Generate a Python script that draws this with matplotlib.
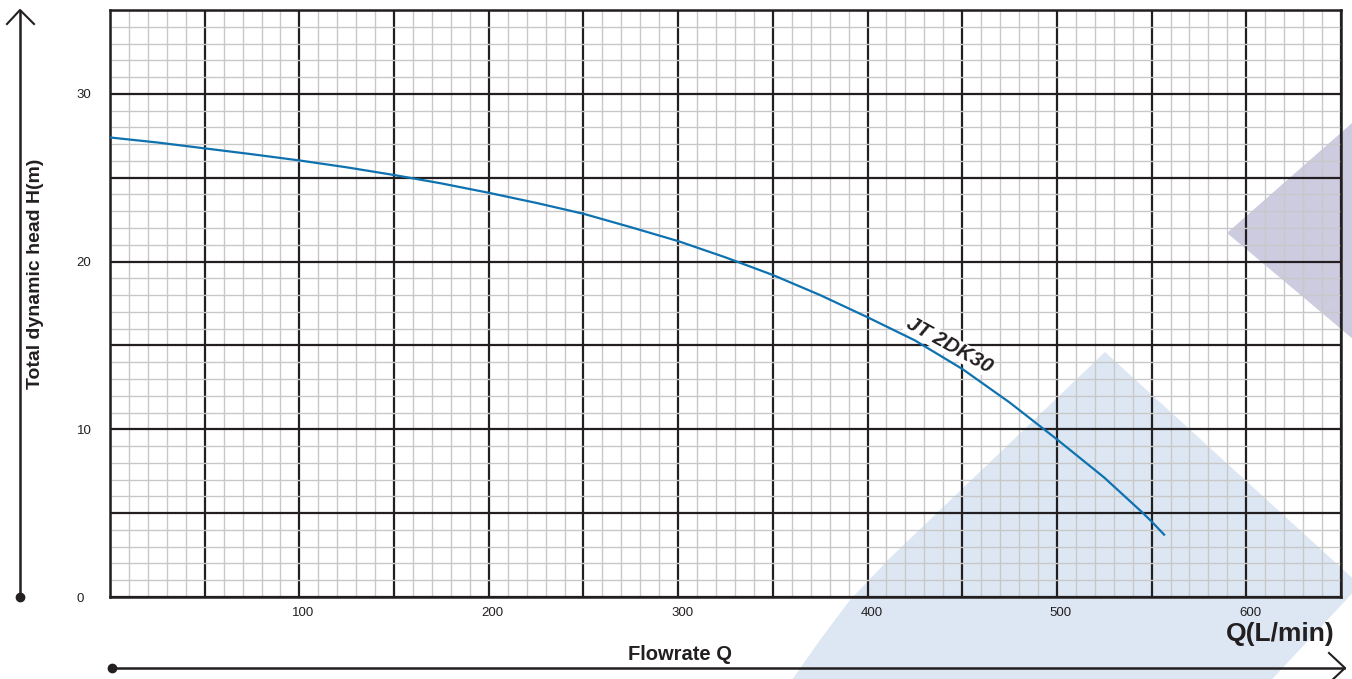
import numpy as np
import matplotlib
matplotlib.use("Agg")
import matplotlib.pyplot as plt
from matplotlib.patches import Polygon
from matplotlib.lines import Line2D
from matplotlib.transforms import ScaledTranslation

# ---- data ----
flow_q = [0, 25, 50, 75, 100, 125, 150, 175, 200, 225, 250, 275, 300, 325, 350,
          375, 400, 425, 450, 475, 500, 525, 545, 550, 557]
head_h = [27.4, 27.1, 26.75, 26.4, 26.03, 25.62, 25.16, 24.66, 24.1, 23.5, 22.85,
          22.05, 21.22, 20.25, 19.2, 18.0, 16.68, 15.3, 13.6, 11.6, 9.4, 7.12,
          5.05, 4.5, 3.67]
curve_name = "JT 2DK30"
x_label_values = [100, 200, 300, 400, 500, 600]
y_label_values = [0, 10, 20, 30]

plt.rcParams['font.family'] = ['Liberation Sans', 'DejaVu Sans']

W, H = 1352, 679
fig = plt.figure(figsize=(W / 100, H / 100), dpi=100)

def fx(px):
    return px / W

def fy(py):
    return 1 - py / H

# decorative background shapes (figure coordinates)
gray_pts = [(1227, 233), (1360, 116), (1360, 345)]
blue_pts = [(1105, 352), (1360, 585), (1262, 690), (785, 690), (820, 640),
            (850, 600), (890, 558)]
fig.patches.append(Polygon([(fx(x), fy(y)) for x, y in gray_pts], closed=True,
                           transform=fig.transFigure, facecolor='#cdcbdf',
                           edgecolor='none', zorder=-2))
fig.patches.append(Polygon([(fx(x), fy(y)) for x, y in blue_pts], closed=True,
                           transform=fig.transFigure, facecolor='#dce7f3',
                           edgecolor='none', zorder=-2))

ax = fig.add_axes([fx(110), fy(597), fx(1341) - fx(110), fy(10) - fy(597)])
ax.set_facecolor('none')
ax.set_xlim(0, 647)
ax.set_ylim(0, 35)

major_x = np.arange(0, 651, 50)
major_y = np.arange(0, 36, 5)
ax.set_xticks(major_x)
ax.set_xticklabels([str(v) if v in x_label_values else '' for v in major_x])
ax.set_yticks(major_y)
ax.set_yticklabels([str(v) if v in y_label_values else '' for v in major_y])
ax.set_xticks(np.arange(0, 651, 10), minor=True)
ax.set_yticks(np.arange(0, 36, 1), minor=True)
ax.tick_params(which='both', length=0)
ax.tick_params(axis='x', labelsize=9.5, pad=7, colors='#231f20')
ax.tick_params(axis='y', labelsize=9.5, pad=24, colors='#231f20')
for lab in ax.get_yticklabels():
    lab.set_horizontalalignment('left')
off = ScaledTranslation(4 / 100, 0, fig.dpi_scale_trans)
for lab in ax.get_xticklabels():
    lab.set_transform(lab.get_transform() + off)

ax.grid(which='minor', color='#c8c8c8', linewidth=1.0, zorder=1)
ax.grid(which='major', color='#231f20', linewidth=1.6, zorder=2)
ax.set_axisbelow(True)
for s in ax.spines.values():
    s.set_color('#231f20')
    s.set_linewidth(1.8)

ax.plot(flow_q, head_h, color='#0f72b0', linewidth=1.6, zorder=5,
        solid_capstyle='butt', solid_joinstyle='round')

ax.text(443, 15.0, curve_name, rotation=-29, rotation_mode='anchor',
        ha='center', va='center', fontsize=15, fontweight='bold',
        fontstyle='italic', color='#231f20', zorder=6,
        bbox=dict(facecolor='white', edgecolor='none', pad=0.3))

# axis titles
fig.text(fx(36), fy(274), 'Total dynamic head H(m)', rotation=90, ha='center',
         va='center', fontsize=14, fontweight='bold', color='#231f20')
fig.text(fx(680), fy(655), 'Flowrate Q', ha='center', va='center',
         fontsize=14.5, fontweight='bold', color='#231f20')
fig.text(fx(1335), fy(634), 'Q(L/min)', ha='right', va='center',
         fontsize=19, fontweight='bold', color='#231f20')

# axis arrows
lc = '#231f20'
fig.add_artist(Line2D([fx(20), fx(20)], [fy(597), fy(11)], color=lc, lw=1.8,
                      transform=fig.transFigure))
fig.add_artist(Line2D([fx(7), fx(20), fx(34)], [fy(24), fy(10), fy(24)],
                      color=lc, lw=1.5, transform=fig.transFigure))
fig.add_artist(Line2D([fx(20)], [fy(597)], color=lc, marker='o', markersize=6,
                      transform=fig.transFigure))
fig.add_artist(Line2D([fx(112), fx(1344)], [fy(668), fy(668)], color=lc, lw=1.8,
                      transform=fig.transFigure))
fig.add_artist(Line2D([fx(1329), fx(1345), fx(1329)], [fy(653), fy(668), fy(683)],
                      color=lc, lw=1.5, transform=fig.transFigure))
fig.add_artist(Line2D([fx(112)], [fy(668)], color=lc, marker='o', markersize=6,
                      transform=fig.transFigure))

fig.savefig('out.png', dpi=100)
